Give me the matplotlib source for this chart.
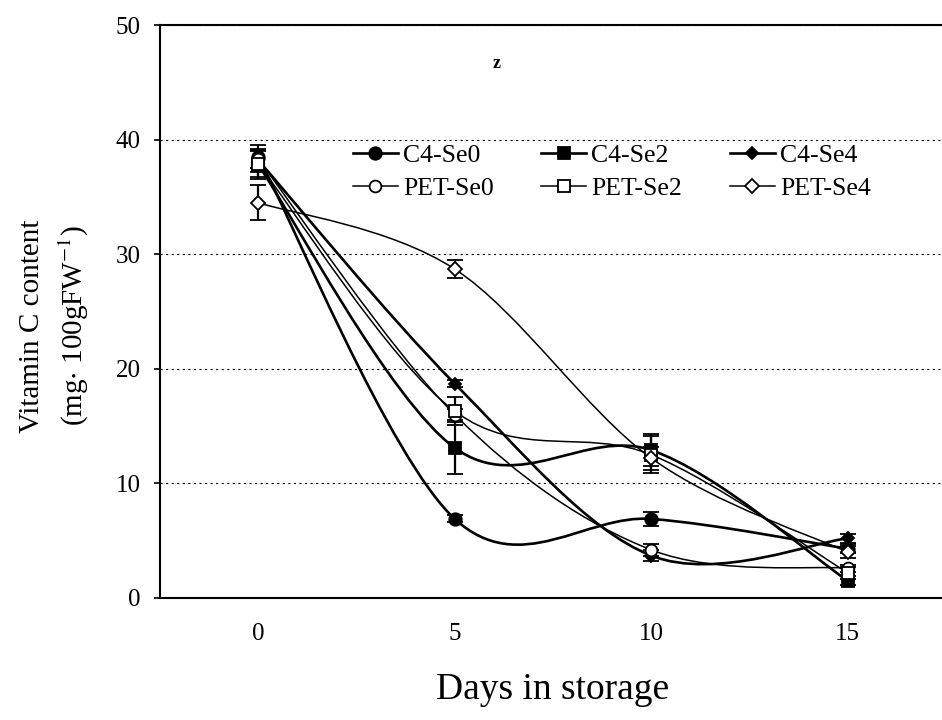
import numpy as np
import matplotlib
matplotlib.use("Agg")
import matplotlib.pyplot as plt
from matplotlib.path import Path
from matplotlib.patches import PathPatch
from matplotlib.lines import Line2D

plt.rcParams["font.family"] = ["Liberation Serif", "DejaVu Serif"]
plt.rcParams["mathtext.fontset"] = "stix"

days = [0, 5, 10, 15]
labels = ["C4-Se0", "C4-Se2", "C4-Se4", "PET-Se0", "PET-Se2", "PET-Se4"]

c4_se0 = [38.5, 6.9, 6.9, 4.3]
c4_se2 = [37.8, 13.1, 12.9, 1.5]
c4_se4 = [38.2, 18.7, 3.7, 5.2]
pet_se0 = [38.3, 16.0, 4.2, 2.6]
pet_se2 = [37.9, 16.3, 12.5, 2.2]
pet_se4 = [34.5, 28.7, 12.2, 4.0]

c4_se0_err = [1.0, 0.3, 0.6, 0.4]
c4_se2_err = [1.2, 2.3, 1.4, 0.4]
c4_se4_err = [1.0, 0.3, 0.5, 0.4]
pet_se0_err = [0.8, 0.5, 0.5, 0.3]
pet_se2_err = [1.2, 1.2, 1.6, 0.5]
pet_se4_err = [1.5, 0.8, 1.0, 0.5]

series = [c4_se0, c4_se2, c4_se4, pet_se0, pet_se2, pet_se4]
errors = [c4_se0_err, c4_se2_err, c4_se4_err, pet_se0_err, pet_se2_err, pet_se4_err]

# marker, filled?, line width, marker size
styles = [
    ("o", True, 1.9, 9),
    ("s", True, 1.9, 8.5),
    ("D", True, 1.9, 6.5),
    ("o", False, 1.1, 8.5),
    ("s", False, 1.1, 9),
    ("D", False, 1.1, 7),
]


def smooth_path(x, y):
    """Spreadsheet-style smoothed line: cubic Bezier segments with
    Catmull-Rom tangents (neighbour difference / 6)."""
    pts = np.column_stack([x, y]).astype(float)
    n = len(pts)
    verts = [pts[0]]
    codes = [Path.MOVETO]
    for i in range(n - 1):
        p_prev = pts[i - 1] if i > 0 else pts[i]
        p0, p1 = pts[i], pts[i + 1]
        p_next = pts[i + 2] if i + 2 < n else pts[i + 1]
        c1 = p0 + (p1 - p_prev) / 6.0
        c2 = p1 - (p_next - p0) / 6.0
        verts += [c1, c2, p1]
        codes += [Path.CURVE4] * 3
    return Path(verts, codes)


fig = plt.figure(figsize=(9.42, 7.2), dpi=100)
ax = fig.add_axes([160 / 942, 1 - 598 / 720, (946 - 160) / 942, (598 - 25) / 720])
ax.set_xlim(-2.5, 17.5)
ax.set_ylim(0, 50)

ax.grid(axis="y", linestyle=(0, (2, 3)), color="black", linewidth=0.8)
ax.set_axisbelow(True)

handles = []
for vals, err, lab, (mk, filled, lw, ms) in zip(series, errors, labels, styles):
    ax.add_patch(PathPatch(smooth_path(days, vals), fill=False,
                           edgecolor="black", linewidth=lw, zorder=2))
    mfc = "black" if filled else "white"
    ax.errorbar(days, vals, yerr=err, fmt=mk, color="black", mfc=mfc,
                mec="black", ms=ms, mew=1.3, ecolor="black", elinewidth=1.6,
                capsize=6, capthick=1.6, zorder=3)
    handles.append(Line2D([], [], color="black", lw=lw, marker=mk,
                          mfc=mfc, mec="black", ms=ms, mew=1.3, label=lab))

order = [0, 3, 1, 4, 2, 5]
ax.legend([handles[i] for i in order], [labels[i] for i in order], ncol=3,
          frameon=False, fontsize=18.5, handlelength=1.75, handletextpad=0.2,
          columnspacing=1.85, labelspacing=0.4, borderpad=0, borderaxespad=0,
          loc="upper left", bbox_to_anchor=(353 / 942, 1 - 144 / 720),
          bbox_transform=fig.transFigure)

fig.text(497 / 942, 1 - 63 / 720, "z", fontsize=13, fontweight="bold",
         ha="center", va="center")

for side in ["left", "top", "bottom"]:
    ax.spines[side].set_linewidth(1.5)
ax.spines["right"].set_visible(False)

ax.set_xticks(days)
ax.set_yticks(range(0, 51, 10))
ax.tick_params(axis="x", length=0, pad=18, labelsize=18)
ax.tick_params(axis="y", length=4, width=1.2, direction="out", pad=10, labelsize=18)

ax.set_xlabel("Days in storage", fontsize=27, labelpad=20)
ax.set_ylabel("Vitamin C content\n(mg$\\cdot$ 100gFW$^{-1}$)", fontsize=21,
              labelpad=18, linespacing=1.45)
ax.yaxis.label.set_y(0.475)

fig.savefig("out.png", dpi=100)
